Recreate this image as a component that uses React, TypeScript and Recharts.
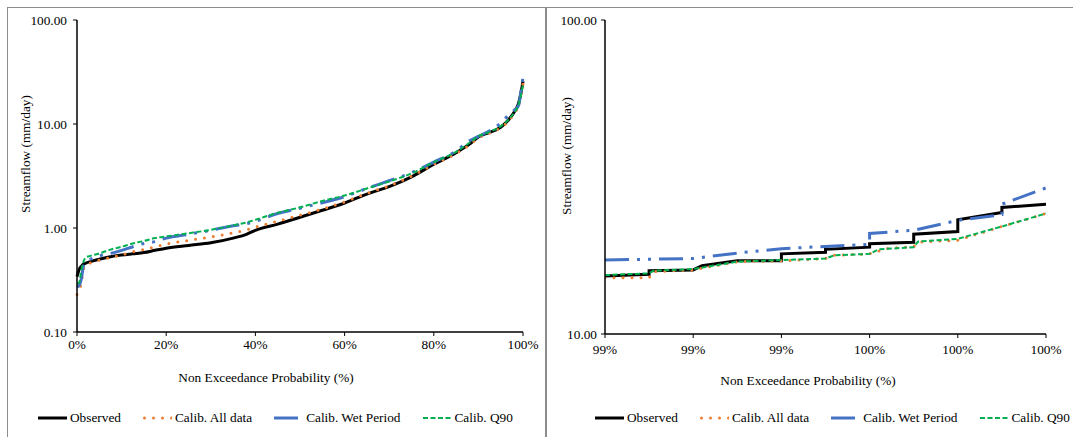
import { LineChart, Line, XAxis, YAxis, Legend } from 'recharts';

const FONT = "'Liberation Serif', 'DejaVu Serif', 'Noto Serif', Tinos, 'Times New Roman', Times, serif";

// ─── full record: non exceedance probability (%) ───
const probability = [
  0, 0.5, 1, 1.5, 2, 3, 5, 7.5, 10, 12.5, 15, 17.5, 20, 25, 30, 35, 38, 40, 45, 50, 55, 60, 65,
  70, 75, 80, 85, 88, 90, 92.5, 95, 97, 98, 99, 99.5, 99.8, 100,
];
const observed = [
  0.34, 0.4, 0.43, 0.45, 0.46, 0.475, 0.5, 0.53, 0.55, 0.565, 0.58, 0.61, 0.64, 0.68, 0.72, 0.8,
  0.87, 0.95, 1.09, 1.27, 1.48, 1.74, 2.12, 2.5, 3.1, 4.1, 5.3, 6.4, 7.5, 8.3, 9.3, 11.3, 13.0,
  15.8, 19.5, 23.0, 25.9,
];
const calibAll = [
  0.23, 0.25, 0.3, 0.41, 0.44, 0.46, 0.49, 0.52, 0.55, 0.59, 0.62, 0.66, 0.7, 0.76, 0.82, 0.9,
  0.96, 1.02, 1.16, 1.33, 1.52, 1.78, 2.15, 2.55, 3.15, 4.1, 5.2, 6.3, 7.3, 8.2, 9.2, 11.0, 12.6,
  15.0, 18.3, 21.5, 24.3,
];
const calibWet = [
  0.27, 0.28, 0.33, 0.44, 0.47, 0.5, 0.54, 0.57, 0.61, 0.66, 0.71, 0.74, 0.8, 0.87, 0.95, 1.05,
  1.1, 1.16, 1.38, 1.55, 1.75, 2.0, 2.4, 2.85, 3.4, 4.3, 5.5, 6.9, 7.6, 8.6, 10.2, 12.5, 13.5,
  15.0, 20.0, 24.0, 29.2,
];
const calibQ90 = [
  0.29, 0.3, 0.4, 0.48, 0.52, 0.54, 0.57, 0.62, 0.66, 0.71, 0.75, 0.8, 0.83, 0.89, 0.96, 1.06,
  1.13, 1.2, 1.4, 1.58, 1.82, 2.05, 2.4, 2.8, 3.35, 4.3, 5.4, 6.6, 7.6, 8.4, 9.5, 11.3, 12.8,
  15.3, 18.5, 21.5, 24.3,
];
const fullTicksX = [0, 20, 40, 60, 80, 100];
const fullTicksY = [0.1, 1, 10, 100];

// ─── upper tail (zoom) ───
const obsTailP = [99.2, 99.25, 99.25, 99.3, 99.31, 99.35, 99.4, 99.4, 99.45, 99.45, 99.5, 99.5, 99.55, 99.55, 99.6, 99.6, 99.65, 99.65, 99.7];
const obsTailQ = [15.3, 15.5, 15.9, 16.0, 16.5, 17.1, 17.1, 18.0, 18.2, 18.6, 18.9, 19.4, 19.6, 20.8, 21.2, 23.1, 24.4, 25.3, 25.9];
const allTailP = [99.2, 99.25, 99.255, 99.3, 99.35, 99.4, 99.45, 99.46, 99.5, 99.52, 99.55, 99.555, 99.6, 99.65, 99.7];
const allTailQ = [15.1, 15.1, 15.8, 16.0, 17.0, 17.1, 17.4, 17.8, 18.0, 18.7, 19.0, 19.6, 19.9, 22.0, 24.2];
const wetTailP = [99.2, 99.3, 99.35, 99.4, 99.45, 99.5, 99.5, 99.55, 99.6, 99.65, 99.65, 99.7];
const wetTailQ = [17.2, 17.4, 18.1, 18.7, 19.0, 19.3, 20.9, 21.4, 23.0, 24.0, 25.9, 29.2];
const q90TailP = [99.2, 99.25, 99.255, 99.3, 99.35, 99.4, 99.45, 99.46, 99.5, 99.51, 99.55, 99.555, 99.6, 99.65, 99.7];
const q90TailQ = [15.4, 15.6, 15.9, 16.1, 17.0, 17.2, 17.4, 17.8, 18.0, 18.6, 18.9, 19.7, 20.1, 22.0, 24.2];
const tailTicksX = [99.2, 99.3, 99.4, 99.5, 99.6, 99.7];
const tailTicksY = [10, 100];

const series = [
  { key: 'obs', name: 'Observed', color: '#000000', width: 3, dash: undefined, cap: 'butt' },
  { key: 'all', name: 'Calib. All data', color: '#ED7D31', width: 3, dash: '0 9', cap: 'round' },
  { key: 'wet', name: 'Calib. Wet Period', color: '#4472C4', width: 3, dash: '24 8 3 8 3 8', cap: 'butt' },
  { key: 'q90', name: 'Calib. Q90', color: '#00B050', width: 2, dash: '5 2.5', cap: 'butt' },
];

const fullData = probability.map((p, i) => ({
  p,
  obs: observed[i],
  all: calibAll[i],
  wet: calibWet[i],
  q90: calibQ90[i],
}));

const zip = (ps: number[], qs: number[], key: string) => ps.map((p, i) => ({ p, [key]: qs[i] }));
const tailData: Record<string, any[]> = {
  obs: zip(obsTailP, obsTailQ, 'obs'),
  all: zip(allTailP, allTailQ, 'all'),
  wet: zip(wetTailP, wetTailQ, 'wet'),
  q90: zip(q90TailP, q90TailQ, 'q90'),
};

const tickStyle = { fill: '#000', fontSize: 13.3, fontFamily: FONT };
const axisLine = { stroke: '#000', strokeWidth: 1.5 };

const LegendRow = () => (
  <div
    style={{
      display: 'flex',
      alignItems: 'center',
      fontFamily: FONT,
      fontSize: 13.3,
      color: '#000',
      whiteSpace: 'nowrap',
    }}
  >
    {series.map((s, i) => (
      <div key={s.key} style={{ display: 'flex', alignItems: 'center', marginLeft: i ? 22 : 0 }}>
        <svg width={29} height={10}>
          <line
            x1={s.cap === 'round' ? 1.5 : 0}
            y1={5}
            x2={29}
            y2={5}
            stroke={s.color}
            strokeWidth={s.width}
            strokeDasharray={s.dash}
            strokeLinecap={s.cap as any}
          />
        </svg>
        <span style={{ marginLeft: 3 }}>{s.name}</span>
      </div>
    ))}
  </div>
);

const axisTitle = (text: string, x: number, y: number, rotate = false) => () => (
  <text
    x={x}
    y={y}
    transform={rotate ? `rotate(-90 ${x} ${y})` : undefined}
    textAnchor="middle"
    dominantBaseline="central"
    fill="#000"
    fontSize={13.3}
    fontFamily={FONT}
  >
    {text}
  </text>
);

const panelStyle = (left: number, width: number): React.CSSProperties => ({
  position: 'absolute',
  left,
  top: 7,
  width,
  height: 440,
  border: '1px solid #8c8c8c',
  background: '#fff',
});

export default function App() {
  return (
    <div
      style={{
        position: 'absolute',
        left: 0,
        top: 0,
        width: 1073,
        height: 437,
        overflow: 'hidden',
        background: '#fff',
        fontFamily: FONT,
      }}
    >
      {/* ─── full flow duration curve ─── */}
      <div style={panelStyle(7, 537)}>
        <LineChart width={537} height={437} data={fullData} margin={{ top: 12, right: 22, bottom: 83, left: 9 }}>
          <XAxis
            dataKey="p"
            type="number"
            domain={[0, 100]}
            ticks={fullTicksX}
            interval={0}
            tickFormatter={(v) => `${v}%`}
            tick={tickStyle}
            tickSize={4}
            tickMargin={4}
            height={30}
            axisLine={axisLine}
            tickLine={{ stroke: '#000' }}
            label={axisTitle('Non Exceedance Probability (%)', 258, 369)}
          />
          <YAxis
            type="number"
            scale="log"
            domain={[0.1, 100]}
            ticks={fullTicksY}
            interval={0}
            allowDataOverflow
            tickFormatter={(v) => Number(v).toFixed(2)}
            tick={tickStyle}
            tickSize={4}
            tickMargin={6}
            width={60}
            axisLine={axisLine}
            tickLine={{ stroke: '#000' }}
            label={axisTitle('Streamflow (mm/day)', 17, 146, true)}
          />
          {series.map((s) => (
            <Line
              key={s.key}
              dataKey={s.key}
              name={s.name}
              type="monotone"
              stroke={s.color}
              strokeWidth={s.width}
              strokeDasharray={s.dash}
              strokeLinecap={s.cap as any}
              dot={false}
              isAnimationActive={false}
            />
          ))}
          <Legend
            layout="horizontal"
            verticalAlign="middle"
            align="center"
            content={() => <LegendRow />}
            wrapperStyle={{ left: 30, top: 402, width: 'auto' }}
          />
        </LineChart>
      </div>

      {/* ─── upper tail ─── */}
      <div style={panelStyle(546, 540)}>
        <LineChart width={540} height={437} margin={{ top: 12, right: 41, bottom: 81, left: 8 }}>
          <XAxis
            dataKey="p"
            type="number"
            domain={[99.2, 99.7]}
            ticks={tailTicksX}
            interval={0}
            allowDataOverflow
            tickFormatter={(v) => `${Math.round(v)}%`}
            tick={tickStyle}
            tickSize={4}
            tickMargin={7}
            height={30}
            axisLine={axisLine}
            tickLine={{ stroke: '#000' }}
            label={axisTitle('Non Exceedance Probability (%)', 261, 372)}
          />
          <YAxis
            type="number"
            scale="log"
            domain={[10, 100]}
            ticks={tailTicksY}
            interval={0}
            allowDataOverflow
            tickFormatter={(v) => Number(v).toFixed(2)}
            tick={tickStyle}
            tickSize={4}
            tickMargin={4}
            width={50}
            axisLine={axisLine}
            tickLine={{ stroke: '#000' }}
            label={axisTitle('Streamflow (mm/day)', 19, 148, true)}
          />
          {series.map((s) => (
            <Line
              key={s.key}
              data={tailData[s.key]}
              dataKey={s.key}
              name={s.name}
              type="linear"
              stroke={s.color}
              strokeWidth={s.width}
              strokeDasharray={s.dash}
              strokeLinecap={s.cap as any}
              dot={false}
              isAnimationActive={false}
            />
          ))}
          <Legend
            layout="horizontal"
            verticalAlign="middle"
            align="center"
            content={() => <LegendRow />}
            wrapperStyle={{ left: 48, top: 402, width: 'auto' }}
          />
        </LineChart>
      </div>
    </div>
  );
}
